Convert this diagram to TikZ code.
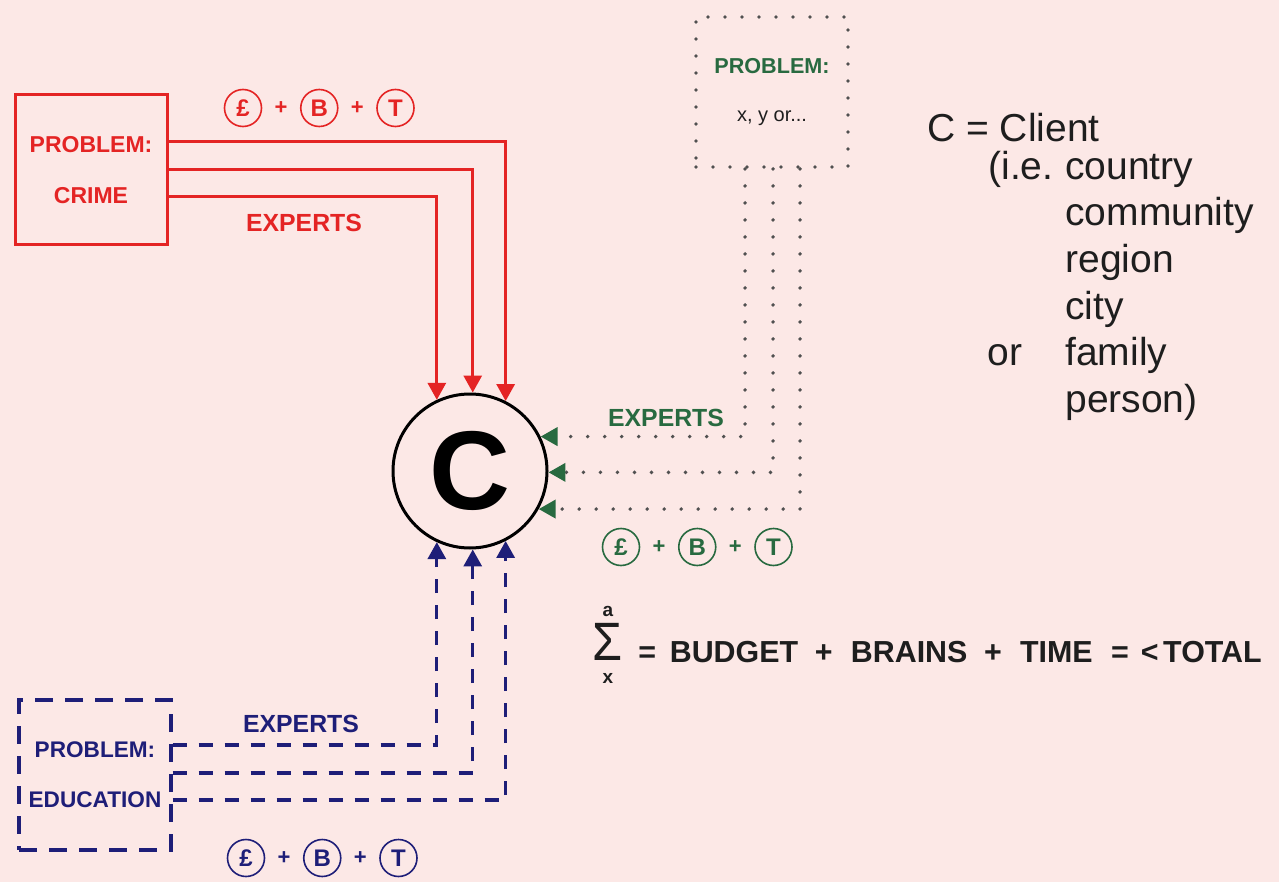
\documentclass[tikz,border=0pt]{standalone}
\usepackage{fontspec}
\setmainfont{Liberation Sans}
\usetikzlibrary{arrows.meta, positioning, calc}

\definecolor{bgpink}{RGB}{252,232,230}
\definecolor{crimered}{RGB}{228,36,36}
\definecolor{ygreen}{RGB}{40,106,64}
\definecolor{edublue}{RGB}{30,30,120}
\definecolor{dotgrey}{RGB}{80,80,80}
\definecolor{txtgrey}{RGB}{30,30,30}

% circled money + brains + time
\newcommand{\coins}[3]{%
  \node[coin=#3] (#1l) at (#2) {£};
  \node[plus=#3,right=6pt of #1l] (#1a) {+};
  \node[coin=#3,right=6pt of #1a] (#1b) {B};
  \node[plus=#3,right=6pt of #1b] (#1c) {+};
  \node[coin=#3,right=6pt of #1c] (#1t) {T};
}

\begin{document}
\begin{tikzpicture}[x=0.5pt,y=-0.5pt,
  coin/.style={circle,draw=#1,text=#1,line width=0.8pt,minimum size=18.5pt,inner sep=0pt,font=\bfseries\fontsize{12}{12}\selectfont},
  plus/.style={text=#1,inner sep=0pt,font=\bfseries\fontsize{11}{11}\selectfont},
  probbox/.style={minimum width=76pt,minimum height=75pt,align=center,inner sep=0pt,font=\bfseries\fontsize{11.5}{25.5}\selectfont},
  tag/.style={font=\bfseries\fontsize{12.4}{14}\selectfont},
  legend/.style={anchor=base west,inner sep=0pt,text=txtgrey,font=\fontsize{19.5}{23}\selectfont},
  redarrow/.style={draw=crimered,line width=1.5pt,-{Triangle[length=8.5pt,width=9pt,color=crimered]}},
  dotarrow/.style={draw=dotgrey,line width=1.9pt,line cap=round,dash pattern=on 0pt off 8.5pt,-{Triangle[length=8.5pt,width=9pt,color=ygreen]}},
  dasharrow/.style={draw=edublue,line width=1.6pt,dash pattern=on 7pt off 6pt,-{Triangle[length=8.5pt,width=9pt,color=edublue]}}]
  \fill[bgpink] (0,0) rectangle (1279,882);
  \useasboundingbox (0,0) rectangle (1279,882);

  % client
  \node[circle,draw,line width=1.5pt,minimum size=77pt,inner sep=0pt,font=\bfseries\fontsize{56}{56}\selectfont] (client) at (470,471) {C};

  % problem boxes
  \node[probbox,draw=crimered,line width=1.5pt,text=crimered] (crime) at (91,170) {PROBLEM:\\CRIME};
  \node[probbox,draw=dotgrey,line width=1.9pt,line cap=round,dash pattern=on 0pt off 8.5pt,font=\bfseries\fontsize{10.8}{24}\selectfont,text=ygreen] (xyprob) at (772,92)
    {PROBLEM:\\{\mdseries\color{txtgrey}\fontsize{10}{24}\selectfont x, y or...}};
  \node[probbox,draw=edublue,line width=1.6pt,dash pattern=on 9pt off 6pt,font=\bfseries\fontsize{11.3}{25}\selectfont,text=edublue] (educ) at (95,775) {PROBLEM:\\EDUCATION};

  % labels
  \node[tag,text=crimered] (rexp) at (304,223) {EXPERTS};
  \node[tag,text=ygreen] (gexp) at (666,418) {EXPERTS};
  \node[tag,text=edublue] (bexp) at (301,724) {EXPERTS};
  \coins{rc}{243,108}{crimered}
  \coins{gc}{621,547}{ygreen}
  \coins{bc}{246,858}{edublue}

  % connectors
  \draw[redarrow] ($(crime.east)+(0,-28)$) -| (client.63);
  \draw[redarrow] (crime.east) -| (client.88);
  \draw[redarrow] ($(crime.east)+(0,27)$) -| (client.115);
  \draw[dotarrow] ($(xyprob.south)+(-27,0)$) |- (client.26);
  \draw[dotarrow] ($(xyprob.south)+(1,0)$) |- (client.-1);
  \draw[dotarrow] ($(xyprob.south)+(28,0)$) |- (client.-29);
  \draw[dasharrow] ($(educ.east)+(0,-30)$) -| (client.-115);
  \draw[dasharrow] ($(educ.east)+(0,-2)$) -| (client.-88);
  \draw[dasharrow] ($(educ.east)+(0,25)$) -| (client.-63);

  % legend
  \node[legend] (ctitle) at (927,142) {C = Client};
  \node[legend] (ie) at (988,180) {(i.e.};
  \node[legend] (country) at (1065,180) {country};
  \node[legend] (community) at (1065,226) {community};
  \node[legend] (region) at (1065,272) {region};
  \node[legend] (city) at (1065,319) {city};
  \node[legend] (orword) at (987,365) {or};
  \node[legend] (family) at (1065,365) {family};
  \node[legend] (person) at (1065,412) {person)};

  % sum
  \node[inner sep=0pt,text=txtgrey,font=\fontsize{27}{27}\selectfont] (sigma) at (608,642) {\scalebox{0.9}[1]{Σ}};
  \node[inner sep=0pt,text=txtgrey,font=\bfseries\fontsize{9.5}{9.5}\selectfont,above=3pt of sigma] (sigtop) {a};
  \node[inner sep=0pt,text=txtgrey,font=\bfseries\fontsize{9.5}{9.5}\selectfont,below=6pt of sigma] (sigbot) {x};
  \node[anchor=west,inner sep=0pt,text=txtgrey,font=\bfseries\fontsize{15.2}{15}\selectfont] (total) at (638,652)
    {=\hspace{.45em}BUDGET\hspace{.55em}+\hspace{.6em}BRAINS\hspace{.55em}+\hspace{.6em}TIME\hspace{.6em}=\hspace{.4em}<\hspace{.15em}TOTAL};
\end{tikzpicture}
\end{document}
